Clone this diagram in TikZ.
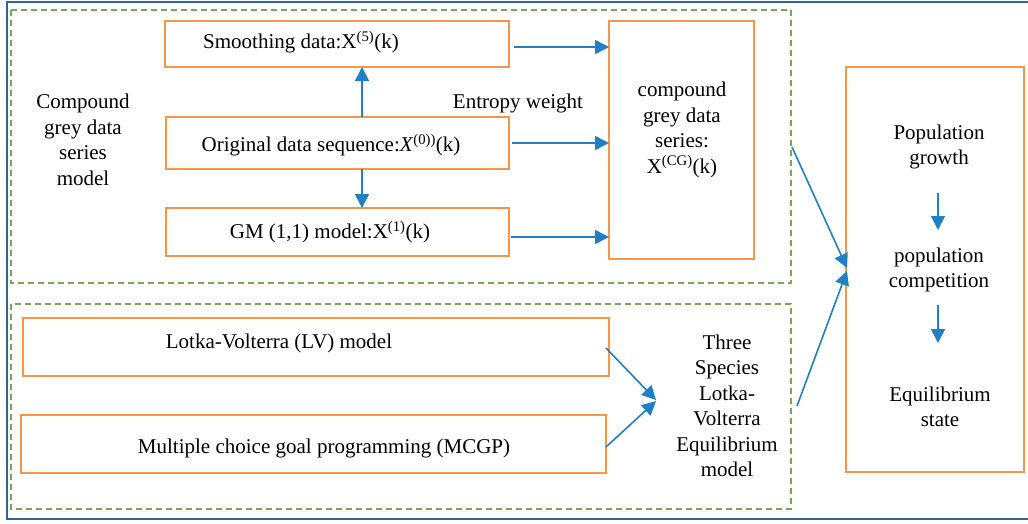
\documentclass[tikz,border=0pt]{standalone}
\usepackage{fontspec}
\setmainfont{Liberation Serif}
\usetikzlibrary{arrows.meta}
\definecolor{obox}{RGB}{247,150,70}
\definecolor{barrow}{RGB}{33,128,196}
\definecolor{gdash}{RGB}{122,168,82}
\definecolor{oborder}{RGB}{50,100,150}
\tikzset{
  ob/.style={draw=obox, line width=1.2pt},
  gd/.style={draw=gdash, line width=1.1pt, dash pattern=on 6pt off 4pt},
  ar/.style={draw=barrow, line width=1.6pt, -{Triangle[length=14pt,width=14pt]}},
  txt/.style={font=\fontsize{21}{25.5}\selectfont, align=center, inner sep=0pt},
}
\begin{document}
\begin{tikzpicture}[x=1pt,y=-1pt]
\useasboundingbox (0,0) rectangle (1028,523);
\begin{scope}
\clip (0,0) rectangle (1028,523);
\draw[draw=oborder, line width=1.3pt] (7,2) rectangle (1040,519);
\end{scope}
% green dashed groups
\draw[gd] (11,10) rectangle (791,283);
\draw[gd] (11,304) rectangle (791,509);
% orange boxes
\draw[ob] (165,21) rectangle (509,67);
\node[txt] (smooth) at (301,42) {Smoothing data:X\textsuperscript{(5)}(k)};
\coordinate (smoothB) at (362,67);
\draw[ob] (166,117) rectangle (509,169);
\node[txt] (orig) at (331,145) {Original data sequence:\textit{X}\textsuperscript{(0))}(k)};
\coordinate (origT) at (362,117);
\coordinate (origB) at (362,169);
\draw[ob] (166,208) rectangle (509,256);
\node[txt] (gm) at (330,232) {GM (1,1) model:X\textsuperscript{(1)}(k)};
\coordinate (gmT) at (362,208);
\draw[ob] (609,21) rectangle (754,259);
\node[txt] (cg) at (682,130) {compound\\grey data\\series:\\X\textsuperscript{(CG)}(k)};
\coordinate (cgL1) at (609,47);
\coordinate (cgL2) at (609,143);
\coordinate (cgL3) at (609,237);
\draw[ob] (846,67) rectangle (1024,472);
\node[txt] (growth) at (939,147) {Population\\growth};
\node[txt] (compet) at (939,270) {population\\competition};
\node[txt] (equil) at (940,407) {Equilibrium\\state};
\draw[ob] (23,318) rectangle (609,376);
\node[txt] (lv) at (279,343) {Lotka-Volterra (LV) model};
\draw[ob] (21,415) rectangle (606,473);
\node[txt] (mcgp) at (324,448) {Multiple choice goal programming (MCGP)};
% labels
\node[txt] (cgm) at (83,140) {Compound\\grey data\\series\\model};
\node[txt] (ew) at (518,103) {Entropy weight};
\node[txt] (three) at (727,406) {Three\\Species\\Lotka-\\Volterra\\Equilibrium\\model};
% connectors
\coordinate (s1) at (514,47);
\coordinate (s2) at (512,143);
\coordinate (s3) at (511,237);
\draw[ar] (s1) -- (cgL1);
\draw[ar] (s2) -- (cgL2);
\draw[ar] (s3) -- (cgL3);
\draw[ar] (origT) -- (smoothB);
\draw[ar] (origB) -- (gmT);
\coordinate (cgOut) at (792,147);
\coordinate (rbIn) at (847,268);
\draw[ar] (cgOut) -- (rbIn);
\coordinate (thOut) at (797,406);
\coordinate (rbIn2) at (847,271);
\draw[ar] (thOut) -- (rbIn2);
\coordinate (lvOut) at (606,348);
\coordinate (thIn1) at (656,400);
\coordinate (mcOut) at (606,447);
\coordinate (thIn2) at (656,401);
\draw[ar] (lvOut) -- (thIn1);
\draw[ar] (mcOut) -- (thIn2);
\coordinate (g1) at (938,193);
\coordinate (g2) at (938,230);
\coordinate (c1) at (938,305);
\coordinate (c2) at (938,343);
\draw[ar] (g1) -- (g2);
\draw[ar] (c1) -- (c2);
\end{tikzpicture}
\end{document}
